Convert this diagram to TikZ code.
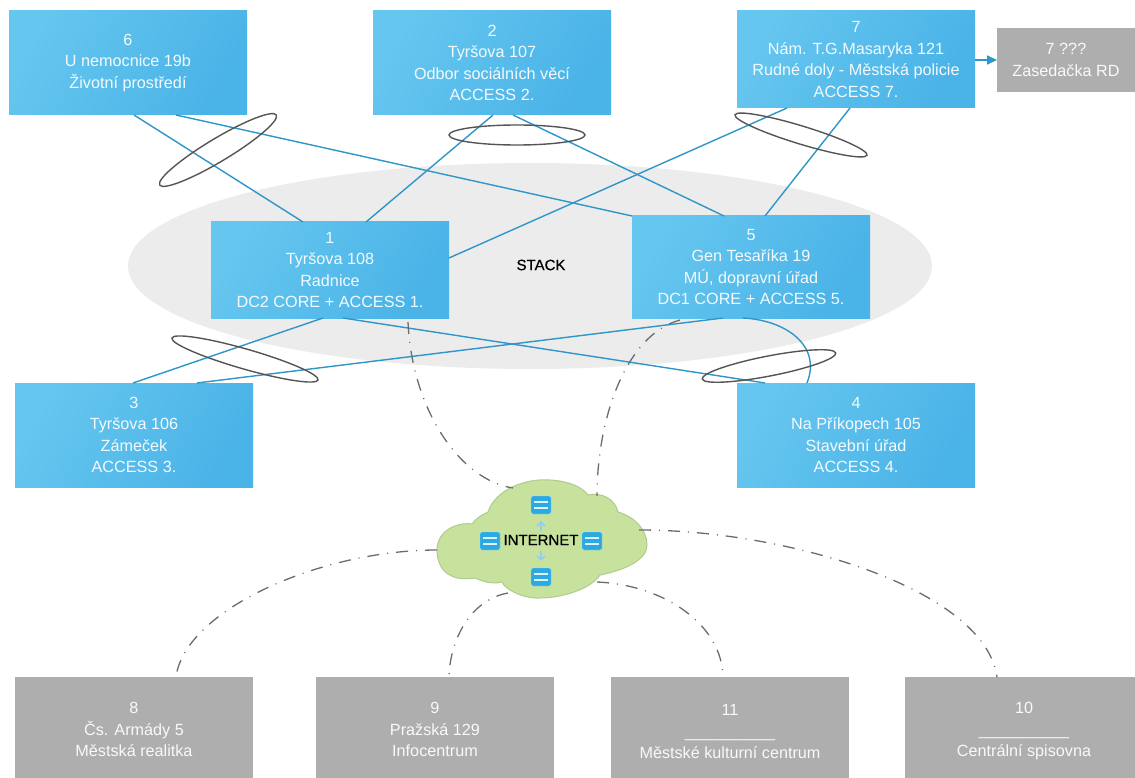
\documentclass[tikz,border=0pt]{standalone}
\usepackage{fontspec}
\setmainfont{Liberation Sans}
\newfontfamily\heavyfont[FakeBold=0.6]{Liberation Sans}
\usetikzlibrary{calc,shapes.geometric,arrows.meta}
\definecolor{linkblue}{HTML}{2E96C9}
\definecolor{boxlight}{HTML}{65C6EF}
\definecolor{boxdark}{HTML}{4AB3E7}
\definecolor{boxgray}{HTML}{AEAEAE}
\definecolor{stackgray}{HTML}{ECECEC}
\definecolor{ringgray}{HTML}{555555}
\definecolor{netgray}{HTML}{6C6C6C}
\definecolor{cloudfill}{HTML}{C6E29C}
\definecolor{cloudline}{HTML}{AFCB90}
\definecolor{iconblue}{HTML}{2AA9E2}
\definecolor{arrowpale}{HTML}{8FD0F2}
\tikzset{
  every node/.style={outer sep=0pt},
  lan/.style={anchor=north west,align=center,text=white!92!boxlight,
    font=\fontsize{16.2}{21.5}\selectfont,inner sep=0pt},
  bluebox/.style={lan,left color=boxlight,middle color=boxlight,right color=boxdark,shading angle=60},
  graybox/.style={lan,fill=boxgray,text=white!92!boxgray},
  link/.style={draw=linkblue,line width=1.4pt},
  ring/.style={draw=ringgray,line width=1.4pt,ellipse,inner sep=0pt,fill=none},
  wan/.style={draw=netgray,line width=1.3pt,dash pattern=on 12pt off 8pt on 1pt off 8pt},
  servericon/.style={fill=iconblue,draw=iconblue!40!white,line width=0.4pt,rounded corners=1.5pt,minimum width=20pt,minimum height=18pt,inner sep=0pt},
  iconbar/.style={draw=white!85!iconblue,line width=1.3pt},
  netarrow/.style={draw=arrowpale,line width=1.5pt,-{Straight Barb[length=4pt,width=8pt]}},
  heavy/.style={text=black,inner sep=0pt}
}
\newcommand{\bx}[6]{\node[#1,minimum width=#4pt,minimum height=#5pt] (#2) at #3 {#6};}
\begin{document}
\begin{tikzpicture}[x=1pt,y=-1pt]
\useasboundingbox (0,0) rectangle (1135,778);
\clip (0,0) rectangle (1135,778);
\fill[white] (0,0) rectangle (1135,778);
% stack zone
\node[ellipse,fill=stackgray,minimum width=804pt,minimum height=206pt,inner sep=0pt] (stackzone) at (530,266) {};
\node[heavy,font=\heavyfont\fontsize{15}{17}\selectfont] (stacklabel) at (541,265) {STACK};
% boxes
\bx{bluebox}{n6}{(9,11)}{238}{104}{6\\U nemocnice 19b\\Životní prostředí}
\bx{bluebox}{n2}{(373,11)}{238}{104}{2\\Tyršova 107\\Odbor sociálních věcí\\ACCESS 2.}
\bx{bluebox}{n7}{(737,11)}{238}{97}{7\\Nám. T.G.Masaryka 121\\Rudné doly - Městská policie\\ACCESS 7.}
\bx{graybox}{n7q}{(997,28)}{138}{64}{7 ???\\Zasedačka RD}
\bx{bluebox}{n1}{(211,222)}{238}{96}{1\\Tyršova 108\\Radnice\\DC2 CORE + ACCESS 1.}
\bx{bluebox}{n5}{(632,216)}{238}{102}{5\\Gen Tesaříka 19\\MÚ, dopravní úřad\\DC1 CORE + ACCESS 5.}
\bx{bluebox}{n3}{(15,383)}{238}{104}{3\\Tyršova 106\\Zámeček\\ACCESS 3.}
\bx{bluebox}{n4}{(737,383)}{238}{104}{4\\Na Příkopech 105\\Stavební úřad\\ACCESS 4.}
\bx{graybox}{n8}{(15,677)}{238}{105}{8\\Čs. Armády 5\\Městská realitka}
\bx{graybox}{n9}{(316,677)}{238}{105}{9\\Pražská 129\\Infocentrum}
\bx{graybox}{n11}{(611,677)}{238}{109}{11\\\_\_\_\_\_\_\_\_\_\_\\Městské kulturní centrum}
\bx{graybox}{n10}{(905,677)}{238}{109}{10\\\_\_\_\_\_\_\_\_\_\_\\Centrální spisovna}
% blue links
\draw[link] ($(n6.south west)+(125,0)$) -- ($(n1.north west)+(92,0)$);
\draw[link] ($(n6.south west)+(167,0)$) -- (n5.north west);
\draw[link] ($(n2.south west)+(120,0)$) -- ($(n1.north west)+(155,0)$);
\draw[link] ($(n2.south west)+(140,0)$) -- ($(n5.north west)+(92,0)$);
\draw[link] ($(n7.south west)+(50,0)$) -- ($(n1.north east)+(0,36)$);
\draw[link] ($(n7.south west)+(113,0)$) -- ($(n5.north west)+(133,0)$);
\draw[link] ($(n1.south west)+(112,0)$) -- ($(n3.north west)+(118,0)$);
\draw[link] ($(n1.south west)+(132,0)$) -- ($(n4.north west)+(28,0)$);
\draw[link] ($(n5.south west)+(91,0)$) -- ($(n3.north west)+(182,0)$);
\draw[link] ($(n5.south west)+(111,0)$) .. controls (785,320) and (822,345) .. ($(n4.north west)+(70,0)$);
\draw[link,line width=1.7pt,-{Triangle[length=10pt,width=9pt]}] ($(n7.north east)+(0,49)$) -- ($(n7q.north west)+(0,32)$);
% rings
\node[ring,minimum width=136pt,minimum height=23pt,rotate=31] (r1) at (218,150) {};
\node[ring,minimum width=136pt,minimum height=20pt] (r2) at (517,135) {};
\node[ring,minimum width=138pt,minimum height=18pt,rotate=-17] (r3) at (801,135) {};
\node[ring,minimum width=152pt,minimum height=20pt,rotate=-16] (r4) at (245,359) {};
\node[ring,minimum width=136pt,minimum height=20pt,rotate=11] (r5) at (769,366) {};
% cloud
\draw[fill=cloudfill,draw=cloudline,line width=1pt]
 (437,550) .. controls (437,530) and (458,522) .. (472,524)
 .. controls (476,518) and (482,515) .. (488,512)
 .. controls (495,490) and (525,478) .. (550,480)
 .. controls (570,481) and (583,488) .. (588,495)
 .. controls (600,492) and (615,498) .. (618,512)
 .. controls (635,517) and (647,530) .. (647,545)
 .. controls (647,560) and (625,570) .. (600,575)
 .. controls (590,590) and (560,598) .. (540,598)
 .. controls (525,599) and (505,590) .. (502,582)
 .. controls (490,585) and (480,580) .. (475,578)
 .. controls (450,582) and (437,570) .. (437,550) -- cycle;
\coordinate (cloudN) at (513,488);
\coordinate (cloudNE) at (597,496);
\coordinate (cloudE) at (639,530);
\coordinate (cloudSE) at (597,582);
\coordinate (cloudS) at (508,593);
\coordinate (cloudW) at (437,550);
% wan links
\draw[wan] ($(n1.south west)+(197,4)$) .. controls (412,410) and (460,480) .. (cloudN);
\draw[wan] ($(n5.south west)+(48,2)$) .. controls (625,335) and (597,420) .. (cloudNE);
\draw[wan] (cloudE) .. controls (790,530) and (985,590) .. ($(n10.north west)+(92,0)$);
\draw[wan] (cloudSE) .. controls (665,585) and (722,625) .. ($(n11.north west)+(112,0)$);
\draw[wan] (cloudS) .. controls (470,600) and (450,640) .. ($(n9.north west)+(133,0)$);
\draw[wan] (cloudW) .. controls (320,550) and (185,610) .. ($(n8.north west)+(161,0)$);
% icons
\foreach \nm/\px/\py in {top/541/505,left/490/541,right/592/541,bot/541/577}{
  \node[servericon] (ic\nm) at (\px,\py) {};
  \draw[iconbar] ($(ic\nm.center)+(-7,-3)$) -- ($(ic\nm.center)+(7,-3)$);
  \draw[iconbar] ($(ic\nm.center)+(-7,3)$) -- ($(ic\nm.center)+(7,3)$);
}
\draw[netarrow] (541,531) -- (541,521);
\draw[netarrow] (541,551) -- (541,561);
\node[heavy,font=\heavyfont\fontsize{15}{17}\selectfont] (internet) at (541,540) {INTERNET};
\end{tikzpicture}
\end{document}
